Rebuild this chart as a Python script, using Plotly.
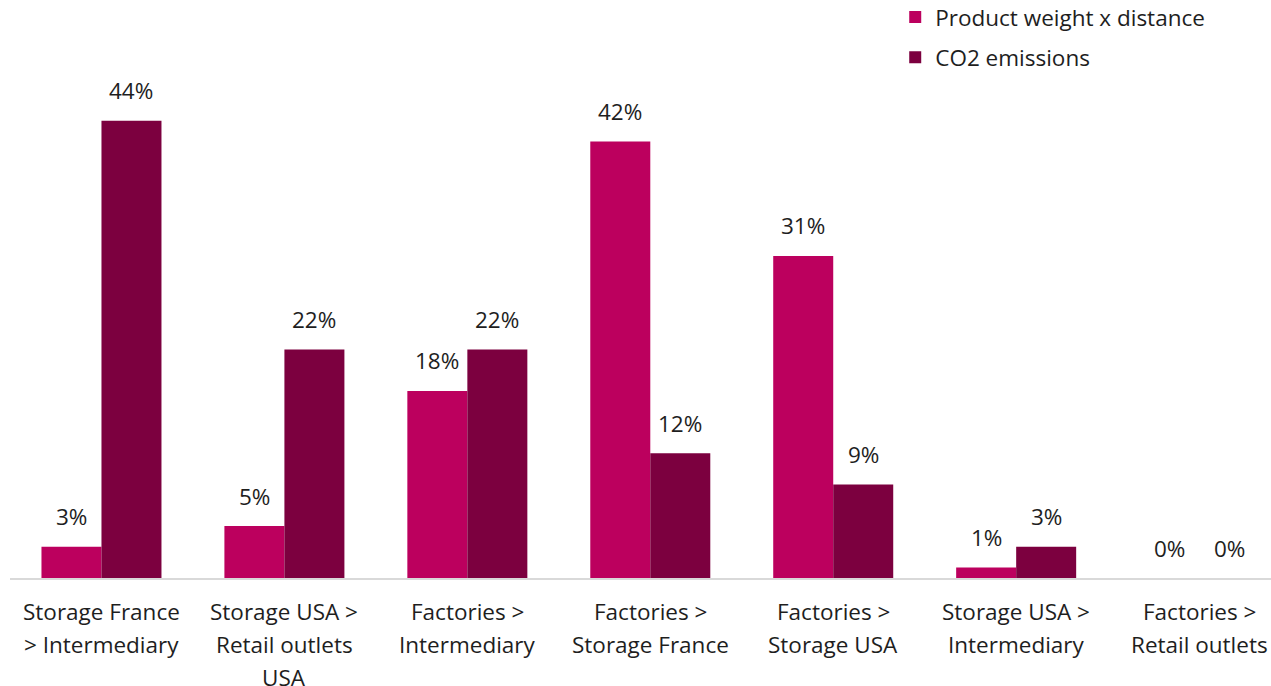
import plotly.graph_objects as go

# Transport legs (each label line listed separately)
categories = [
    "Storage France > Intermediary",
    "Storage USA > Retail outlets USA",
    "Factories > Intermediary",
    "Factories > Storage France",
    "Factories > Storage USA",
    "Storage USA > Intermediary",
    "Factories > Retail outlets",
]
tick_lines = [
    ["Storage France", "> Intermediary"],
    ["Storage USA >", "Retail outlets", "USA"],
    ["Factories >", "Intermediary"],
    ["Factories >", "Storage France"],
    ["Factories >", "Storage USA"],
    ["Storage USA >", "Intermediary"],
    ["Factories >", "Retail outlets"],
]

weight_distance = [3, 5, 18, 42, 31, 1, 0]
co2_emissions = [44, 22, 22, 12, 9, 3, 0]

PINK = "#BC005E"
PLUM = "#7C003F"
FONT = "Open Sans"
FS = 22.5
TEXT = "#1e1e1e"

fig = go.Figure()
fig.add_trace(go.Bar(x=categories, y=weight_distance, name="Product weight x distance",
                     marker=dict(color=PINK, line=dict(width=0)), legendgroup="a"))
fig.add_trace(go.Bar(x=categories, y=co2_emissions, name="CO2 emissions",
                     marker=dict(color=PLUM, line=dict(width=0)), legendgroup="b"))

# value labels above each bar
annotations = []
for series, shift in ((weight_distance, -30), (co2_emissions, 30)):
    for cat, v in zip(categories, series):
        annotations.append(dict(x=cat, y=v, xref="x", yref="y", text=f"{v}%",
                                showarrow=False, xshift=shift, yshift=30,
                                yanchor="middle",
                                font=dict(size=FS, color=TEXT, family=FONT)))

# category labels, one line per annotation
for cat, lines in zip(categories, tick_lines):
    for i, line in enumerate(lines):
        annotations.append(dict(x=cat, y=0, xref="x", yref="y", text=line,
                                showarrow=False, yshift=-33 - 33 * i, yanchor="middle",
                                font=dict(size=FS, color=TEXT, family=FONT)))

fig.update_layout(
    width=1271, height=686,
    margin=dict(l=10, r=0, t=0, b=108, autoexpand=False),
    paper_bgcolor="white", plot_bgcolor="white",
    barmode="group", bargap=0.344, bargroupgap=0,
    font=dict(family=FONT, size=FS, color=TEXT),
    showlegend=True,
    legend=dict(x=0.702, y=1.007, xanchor="left", yanchor="top",
                font=dict(size=FS, color=TEXT, family=FONT),
                tracegroupgap=8, itemwidth=30, bgcolor="rgba(0,0,0,0)"),
    annotations=annotations,
    xaxis=dict(range=[-0.5, 6.393], showticklabels=False, ticks="",
               showline=True, linecolor="#D9D9D9", linewidth=2, showgrid=False,
               zeroline=False, fixedrange=True),
    yaxis=dict(range=[0, 55.63], visible=False, showgrid=False, zeroline=False,
               fixedrange=True),
)

fig.write_html("out.html")
